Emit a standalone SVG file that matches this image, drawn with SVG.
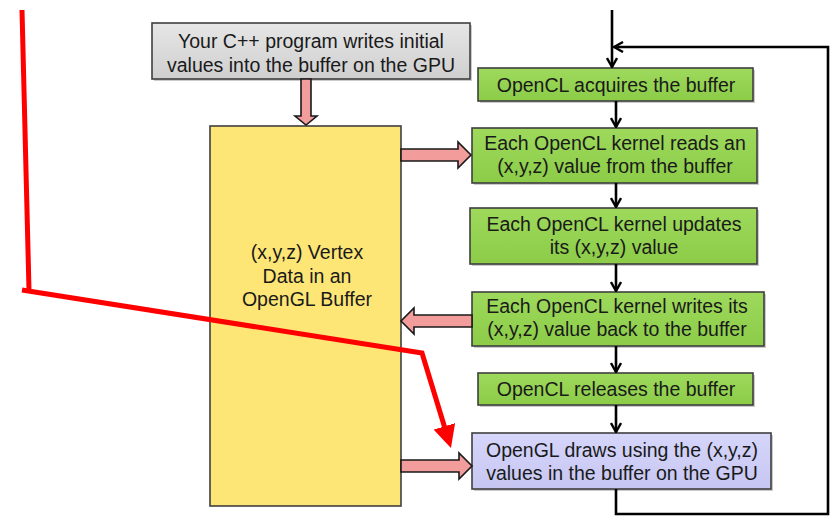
<svg xmlns="http://www.w3.org/2000/svg" width="830" height="516" viewBox="0 0 830 516">
  <defs>
    <linearGradient id="gGray" x1="0" y1="0" x2="0" y2="1">
      <stop offset="0" stop-color="#e6e6e6"/>
      <stop offset="1" stop-color="#cfcfcf"/>
    </linearGradient>
    <linearGradient id="gGreen" x1="0" y1="0" x2="0" y2="1">
      <stop offset="0" stop-color="#9ed95c"/>
      <stop offset="1" stop-color="#8ccc48"/>
    </linearGradient>
    <linearGradient id="gPurple" x1="0" y1="0" x2="0" y2="1">
      <stop offset="0" stop-color="#d6d6fb"/>
      <stop offset="1" stop-color="#c6c6f2"/>
    </linearGradient>
    <marker id="chev" viewBox="0 0 12 12" refX="11" refY="6" markerWidth="12" markerHeight="12" markerUnits="userSpaceOnUse" orient="auto">
      <path d="M2,1 L11,6 L2,11" fill="none" stroke="#000" stroke-width="2.4"/>
    </marker>
    <marker id="redHead" viewBox="0 0 10 10" refX="4" refY="5" markerWidth="4.5" markerHeight="4.5" orient="auto">
      <path d="M0,0 L10,5 L0,10 Z" fill="#ff0000"/>
    </marker>
  </defs>
  <style>
    .box { stroke: #3f3f3f; stroke-width: 1.6; }
    .shadow { fill: #8a8a8a; opacity: 0.45; }
    .gray { fill: url(#gGray); }
    .green { fill: url(#gGreen); }
    .purple { fill: url(#gPurple); }
    .yellow { fill: #fee676; }
    .lbl { font-family: "Liberation Sans", Arial, sans-serif; font-size: 19.5px; fill: #1a1a1a; text-anchor: middle; }
    .flow { stroke: #000; stroke-width: 2.6; fill: none; }
    .pink { fill: #f39c9c; stroke: #1a1a1a; stroke-width: 1.6; stroke-linejoin: miter; }
    .red { stroke: #ff0000; stroke-width: 5; fill: none; stroke-linejoin: miter; }
  </style>

  <!-- Host program box -->
  <g id="host">
    <rect class="shadow" x="154" y="25" width="318" height="56"/>
    <rect class="box gray" x="152" y="23" width="318" height="56"/>
    <text class="lbl" x="311" y="48">Your C++ program writes initial</text>
    <text class="lbl" x="311" y="72">values into the buffer on the GPU</text>
  </g>

  <!-- Vertex buffer -->
  <g id="buffer">
    <rect class="box yellow" x="210" y="126" width="191" height="380"/>
    <text class="lbl" x="307" y="259">(x,y,z) Vertex</text>
    <text class="lbl" x="307" y="283">Data in an</text>
    <text class="lbl" x="307" y="306">OpenGL Buffer</text>
  </g>

  <!-- Pipeline steps -->
  <g id="acquire">
    <rect class="shadow" x="480" y="70" width="275" height="33"/>
    <rect class="box green" x="478" y="68" width="275" height="33"/>
    <text class="lbl" x="616" y="92">OpenCL acquires the buffer</text>
  </g>
  <g id="read">
    <rect class="shadow" x="474" y="130" width="285" height="55"/>
    <rect class="box green" x="472" y="128" width="285" height="55"/>
    <text class="lbl" x="615" y="150">Each OpenCL kernel reads an</text>
    <text class="lbl" x="615" y="173">(x,y,z) value from the buffer</text>
  </g>
  <g id="update">
    <rect class="shadow" x="472" y="210" width="287" height="56"/>
    <rect class="box green" x="470" y="208" width="287" height="56"/>
    <text class="lbl" x="614" y="231">Each OpenCL kernel updates</text>
    <text class="lbl" x="614" y="254">its (x,y,z) value</text>
  </g>
  <g id="write">
    <rect class="shadow" x="474" y="294" width="292" height="54"/>
    <rect class="box green" x="472" y="292" width="292" height="54"/>
    <text class="lbl" x="617" y="313">Each OpenCL kernel writes its</text>
    <text class="lbl" x="617" y="336">(x,y,z) value back to the buffer</text>
  </g>
  <g id="release">
    <rect class="shadow" x="480" y="375" width="275" height="32"/>
    <rect class="box green" x="478" y="373" width="275" height="32"/>
    <text class="lbl" x="616" y="396">OpenCL releases the buffer</text>
  </g>
  <g id="draw">
    <rect class="shadow" x="474" y="435" width="299" height="56"/>
    <rect class="box purple" x="472" y="433" width="299" height="56"/>
    <text class="lbl" x="622" y="457">OpenGL draws using the (x,y,z)</text>
    <text class="lbl" x="622" y="480">values in the buffer on the GPU</text>
  </g>

  <g id="connectors">
    <!-- control flow -->
    <line class="flow" x1="612" y1="10" x2="612" y2="67" marker-end="url(#chev)"/>
    <line class="flow" x1="616" y1="101" x2="616" y2="127" marker-end="url(#chev)"/>
    <line class="flow" x1="616" y1="183" x2="616" y2="207" marker-end="url(#chev)"/>
    <line class="flow" x1="616" y1="264" x2="616" y2="291" marker-end="url(#chev)"/>
    <line class="flow" x1="616" y1="346" x2="616" y2="372" marker-end="url(#chev)"/>
    <line class="flow" x1="616" y1="405" x2="616" y2="432" marker-end="url(#chev)"/>
    <!-- loop back to the top -->
    <polyline class="flow" points="616,489 616,514 828,514 828,47 614,47" marker-end="url(#chev)"/>

    <!-- data flow between program, buffer and kernels -->
    <path class="pink" d="M301,79 L311,79 L311,116 L317,116 L306,125 L295,116 L301,116 Z"/>
    <path class="pink" d="M401,149 L458,149 L458,142 L471,155 L458,168 L458,161 L401,161 Z"/>
    <path class="pink" d="M472,315 L414,315 L414,308 L401,321 L414,334 L414,327 L472,327 Z"/>
    <path class="pink" d="M401,460 L459,460 L459,453 L472,466 L459,479 L459,472 L401,472 Z"/>
  </g>

  <!-- red pointer drawn over the figure -->
  <g id="pointer">
    <line class="red" x1="22" y1="10" x2="29" y2="290"/>
    <polyline class="red" points="22,290 422,353 447,435" marker-end="url(#redHead)"/>
  </g>
</svg>
